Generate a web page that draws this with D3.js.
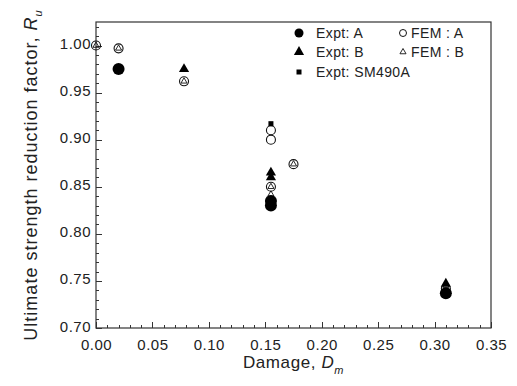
<!DOCTYPE html>
<html lang="en">
<head>
<meta charset="UTF-8">
<title>Ultimate strength reduction factor</title>
<script src="https://d3js.org/d3.v7.min.js"></script>
<style>
body { margin: 0; background: #fff; }
svg text { font-family: "Liberation Sans", Arial, sans-serif; fill: #222; }
.axis path, .axis line { stroke: #333; shape-rendering: crispEdges; }
</style>
</head>
<body>
<script>
// data
var exptAX = [0.02, 0.155, 0.155, 0.31];
var exptAY = [0.975, 0.835, 0.830, 0.737];
var exptBX = [0.078, 0.155, 0.155, 0.31];
var exptBY = [0.975, 0.865, 0.860, 0.747];
var smX = [0.155];
var smY = [0.917];
var femAX = [0.0, 0.02, 0.078, 0.155, 0.155, 0.155, 0.175, 0.31];
var femAY = [1.0, 0.997, 0.962, 0.910, 0.900, 0.850, 0.874, 0.742];
var femBX = [0.0, 0.02, 0.078, 0.155, 0.155, 0.175, 0.31];
var femBY = [1.0, 0.997, 0.962, 0.850, 0.842, 0.874, 0.745];
var xTicks = [0, 0.05, 0.10, 0.15, 0.20, 0.25, 0.30, 0.35];
var yTicks = [0.70, 0.75, 0.80, 0.85, 0.90, 0.95, 1.00];

var width = 517, height = 386;
// plot area (note: "top" is reserved on window)
var pLeft = 96, pRight = 491, pTop = 22, pBottom = 328;

var svg = d3.select("body").append("svg")
    .attr("width", width).attr("height", height);

var x = d3.scaleLinear().domain([0, 0.35]).range([pLeft, pRight]);
var y = d3.scaleLinear().domain([0.70, 1.025]).range([pBottom, pTop]);

// minor ticks
var xMinor = d3.range(0, 0.3501, 0.01);
var yMinor = d3.range(0.70, 1.0201, 0.01);

svg.append("g").attr("class", "axis")
    .attr("transform", "translate(0," + pBottom + ")")
    .call(d3.axisBottom(x).tickValues(xMinor).tickSize(-3).tickFormat(""))
    .select(".domain").remove();
svg.append("g").attr("class", "axis")
    .attr("transform", "translate(" + pLeft + ",0)")
    .call(d3.axisLeft(y).tickValues(yMinor).tickSize(-3).tickFormat(""))
    .select(".domain").remove();

var xAxis = svg.append("g").attr("class", "axis")
    .attr("transform", "translate(0," + pBottom + ")")
    .call(d3.axisBottom(x).tickValues(xTicks).tickSize(-6).tickPadding(8)
        .tickFormat(d3.format(".2f")));
xAxis.select(".domain").remove();
xAxis.selectAll("text").attr("font-size", 15).attr("letter-spacing", 0.5).attr("dy", "0.9em");

var yAxis = svg.append("g").attr("class", "axis")
    .attr("transform", "translate(" + pLeft + ",0)")
    .call(d3.axisLeft(y).tickValues(yTicks).tickSize(-6).tickPadding(5)
        .tickFormat(d3.format(".2f")));
yAxis.select(".domain").remove();
yAxis.selectAll("text").attr("font-size", 15).attr("letter-spacing", 0.5).attr("dy", "0.2em");

// frame
svg.append("rect")
    .attr("x", pLeft).attr("y", pTop)
    .attr("width", pRight - pLeft).attr("height", pBottom - pTop)
    .attr("fill", "none").attr("stroke", "#333").attr("stroke-width", 1.2);

// axis titles
var xt = svg.append("text").attr("x", (pLeft + pRight) / 2).attr("y", 368)
    .attr("text-anchor", "middle").attr("font-size", 17).attr("letter-spacing", 0.6);
xt.append("tspan").text("Damage, ");
xt.append("tspan").attr("font-style", "italic").text("D");
xt.append("tspan").attr("font-style", "italic").attr("font-size", 11).attr("dy", 6).text("m");

var yt = svg.append("text")
    .attr("transform", "translate(37," + ((pTop + pBottom) / 2) + ") rotate(-90)")
    .attr("text-anchor", "middle").attr("font-size", 18).attr("letter-spacing", 1);
yt.append("tspan").text("Ultimate strength reduction factor, ");
yt.append("tspan").attr("font-style", "italic").text("R");
yt.append("tspan").attr("font-style", "italic").attr("font-size", 11).attr("dy", 5).text("u");

function pts(xs, ys) { return xs.map(function (v, i) { return [v, ys[i]]; }); }

var tri = d3.symbol().type(d3.symbolTriangle);
var plot = svg.append("g");

// FEM A open circles
plot.selectAll(".fa").data(pts(femAX, femAY)).enter().append("circle")
    .attr("cx", function (d) { return x(d[0]); })
    .attr("cy", function (d) { return y(d[1]); })
    .attr("r", 4.5).attr("fill", "none").attr("stroke", "#111").attr("stroke-width", 1.1);
// FEM B open triangles
plot.selectAll(".fb").data(pts(femBX, femBY)).enter().append("path")
    .attr("d", tri.size(16))
    .attr("transform", function (d) { return "translate(" + x(d[0]) + "," + y(d[1]) + ")"; })
    .attr("fill", "none").attr("stroke", "#111").attr("stroke-width", 0.9);
// Expt A filled circles
plot.selectAll(".ea").data(pts(exptAX, exptAY)).enter().append("circle")
    .attr("cx", function (d) { return x(d[0]); })
    .attr("cy", function (d) { return y(d[1]); })
    .attr("r", 6).attr("fill", "#000");
// Expt B filled triangles
plot.selectAll(".eb").data(pts(exptBX, exptBY)).enter().append("path")
    .attr("d", tri.size(45))
    .attr("transform", function (d) { return "translate(" + x(d[0]) + "," + y(d[1]) + ")"; })
    .attr("fill", "#000");
// SM490A squares
plot.selectAll(".sm").data(pts(smX, smY)).enter().append("rect")
    .attr("x", function (d) { return x(d[0]) - 2.5; })
    .attr("y", function (d) { return y(d[1]) - 2.5; })
    .attr("width", 5).attr("height", 5).attr("fill", "#000");

// legend
var lg = svg.append("g").attr("font-size", 14).attr("letter-spacing", 0.4);
lg.append("circle").attr("cx", 299).attr("cy", 33).attr("r", 4.5).attr("fill", "#000");
lg.append("text").attr("x", 316).attr("y", 38).text("Expt: A");
lg.append("path").attr("d", tri.size(45)).attr("transform", "translate(299,52)").attr("fill", "#000");
lg.append("text").attr("x", 316).attr("y", 57).text("Expt: B");
lg.append("rect").attr("x", 296.5).attr("y", 69.5).attr("width", 5).attr("height", 5).attr("fill", "#000");
lg.append("text").attr("x", 316).attr("y", 77).text("Expt: SM490A");
lg.append("circle").attr("cx", 403).attr("cy", 33).attr("r", 3.5).attr("fill", "none").attr("stroke", "#111");
lg.append("text").attr("x", 411).attr("y", 38).text("FEM : A");
lg.append("path").attr("d", tri.size(16)).attr("transform", "translate(403,52)").attr("fill", "none").attr("stroke", "#111").attr("stroke-width", 0.9);
lg.append("text").attr("x", 411).attr("y", 57).text("FEM : B");
</script>
</body>
</html>
